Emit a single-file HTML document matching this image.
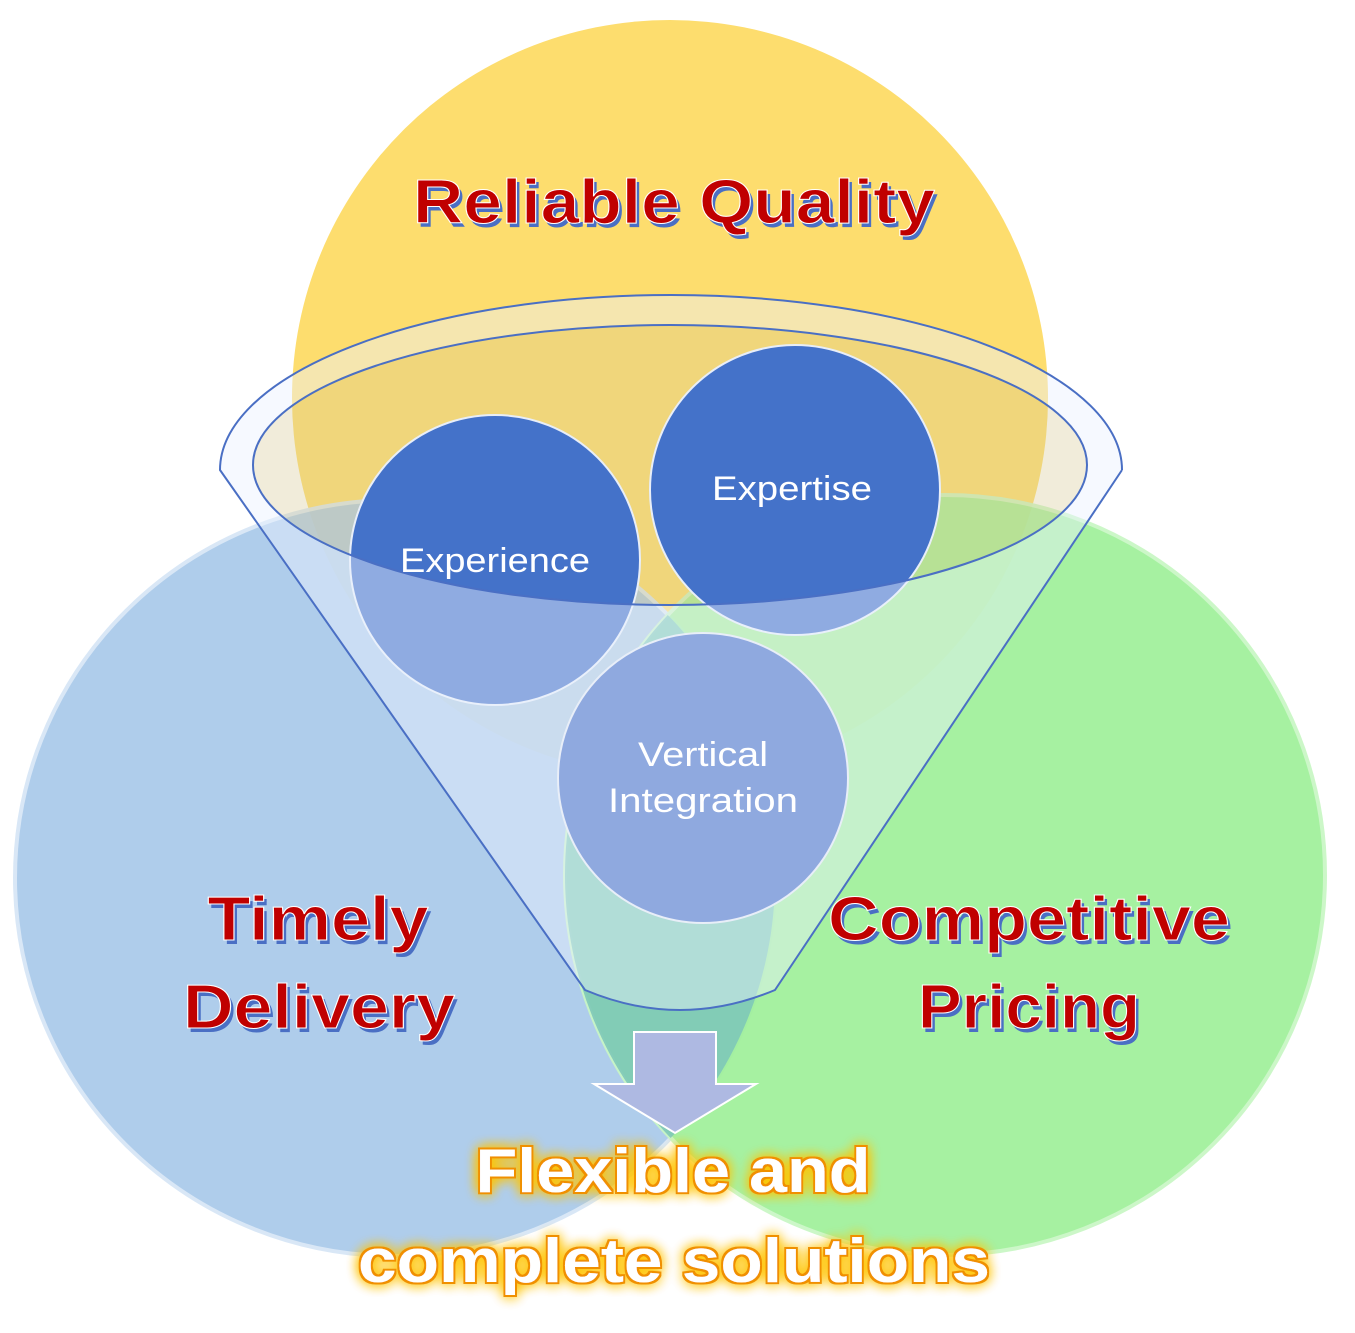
<!DOCTYPE html>
<html><head><style>body{margin:0;background:#fff}svg{display:block}
text{font-family:"Liberation Sans",sans-serif;font-weight:bold;text-anchor:middle}
.n{font-weight:normal}</style></head>
<body>
<svg width="1355" height="1333" viewBox="0 0 1355 1333" xmlns="http://www.w3.org/2000/svg">
<defs>
<filter id="glow" x="-20%" y="-40%" width="140%" height="180%">
<feMorphology in="SourceAlpha" operator="dilate" radius="2" result="d"/>
<feGaussianBlur in="SourceAlpha" stdDeviation="7" result="b"/>
<feFlood flood-color="#ffc400"/><feComposite in2="b" operator="in" result="g"/>
<feFlood flood-color="#f09000"/><feComposite in2="d" operator="in" result="o"/>
<feMerge><feMergeNode in="g"/><feMergeNode in="g"/><feMergeNode in="g"/><feMergeNode in="o"/><feMergeNode in="SourceGraphic"/></feMerge>
</filter>
<clipPath id="bc"><ellipse cx="395" cy="878" rx="380" ry="378"/></clipPath>
</defs>
<circle cx="670" cy="398" r="378" fill="#fddd6e"/>
<ellipse cx="395" cy="878" rx="380" ry="378" fill="#a9c9ea" opacity="0.92" stroke="#d6e6f6" stroke-width="4"/>
<ellipse cx="945" cy="875" rx="380" ry="380" fill="#9ff09a" opacity="0.92" stroke="#c8f7c4" stroke-width="4"/>
<ellipse cx="945" cy="875" rx="380" ry="380" fill="#7ec8b8" clip-path="url(#bc)" opacity="0.9"/>
<ellipse cx="670" cy="465" rx="417" ry="140" fill="rgba(215,200,150,0.35)"/>
<circle cx="495" cy="560" r="145" fill="#4472c9" stroke="#e8eef8" stroke-width="2"/>
<circle cx="795" cy="490" r="145" fill="#4472c9" stroke="#e8eef8" stroke-width="2"/>
<path fill-rule="evenodd" fill="rgba(235,242,255,0.45)" d="M220 470 L585 990 Q680 1030 775 990 L1122 470 A451 175 0 0 0 220 470 Z M253 465 A417 140 0 1 0 1087 465 A417 140 0 1 0 253 465 Z"/>
<path d="M1122 470 A451 175 0 0 0 220 470 L585 990 Q680 1030 775 990 L1122 470" fill="none" stroke="#4a6fc4" stroke-width="2"/>
<ellipse cx="670" cy="465" rx="417" ry="140" fill="none" stroke="#4a6fc4" stroke-width="2"/>
<circle cx="703" cy="778" r="145" fill="#8fa9df" stroke="#e8eef8" stroke-width="2"/>
<path d="M634 1032 H716 V1084 H756 L675 1133 L594 1084 H634 Z" fill="#aeb9e2" stroke="#fff" stroke-width="2"/>
<g fill="#fff" font-size="34">
<text class="n" x="495" y="572" textLength="190" lengthAdjust="spacingAndGlyphs">Experience</text>
<text class="n" x="792" y="500" textLength="160" lengthAdjust="spacingAndGlyphs">Expertise</text>
<text class="n" x="703" y="766" textLength="130" lengthAdjust="spacingAndGlyphs">Vertical</text>
<text class="n" x="703" y="812" textLength="190" lengthAdjust="spacingAndGlyphs">Integration</text>
</g>
<g font-size="62">
<g fill="#4a6fc4" transform="translate(3,4)">
<text x="674" y="223" textLength="522" lengthAdjust="spacingAndGlyphs">Reliable Quality</text>
<text x="318" y="940" textLength="221" lengthAdjust="spacingAndGlyphs">Timely</text><text x="319" y="1028" textLength="272" lengthAdjust="spacingAndGlyphs">Delivery</text>
<text x="1029" y="940" textLength="402" lengthAdjust="spacingAndGlyphs">Competitive</text><text x="1029" y="1028" textLength="222" lengthAdjust="spacingAndGlyphs">Pricing</text>
</g>
<g fill="#c00000" stroke="#fff" stroke-width="1">
<text x="674" y="223" textLength="522" lengthAdjust="spacingAndGlyphs">Reliable Quality</text>
<text x="318" y="940" textLength="221" lengthAdjust="spacingAndGlyphs">Timely</text><text x="319" y="1028" textLength="272" lengthAdjust="spacingAndGlyphs">Delivery</text>
<text x="1029" y="940" textLength="402" lengthAdjust="spacingAndGlyphs">Competitive</text><text x="1029" y="1028" textLength="222" lengthAdjust="spacingAndGlyphs">Pricing</text>
</g>
<g fill="#fff" filter="url(#glow)">
<text x="673" y="1192" textLength="395" lengthAdjust="spacingAndGlyphs">Flexible and</text>
<text x="674" y="1282" textLength="632" lengthAdjust="spacingAndGlyphs">complete solutions</text>
</g>
</g>
</svg>
</body></html>
